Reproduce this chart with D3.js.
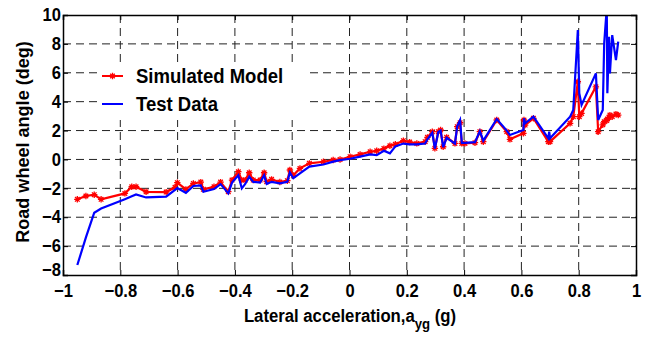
<!DOCTYPE html>
<html>
<head>
<meta charset="utf-8">
<script src="https://cdn.jsdelivr.net/npm/d3@7"></script>
<style>
  body { margin: 0; background: #fff; }
  svg { display: block; }
  text { font-family: "Liberation Sans", Arial, sans-serif; font-weight: bold; fill: #000; }
</style>
</head>
<body>
<svg id="chart"></svg>
<script>
// lateral acceleration (g), shared by both series
const accel = [
  -0.950, -0.920, -0.891, -0.867, -0.784, -0.760, -0.745, -0.710, -0.640, -0.609,
  -0.601, -0.571, -0.545, -0.519, -0.510, -0.473, -0.450, -0.423, -0.410, -0.388,
  -0.376, -0.364, -0.350, -0.336, -0.312, -0.298, -0.289, -0.272, -0.243, -0.217,
  -0.208, -0.196, -0.173, -0.140, -0.091, -0.057, -0.033, 0.002, 0.037, 0.072,
  0.095, 0.120, 0.141, 0.160, 0.188, 0.210, 0.235, 0.264, 0.272, 0.289,
  0.298, 0.310, 0.318, 0.327, 0.339, 0.368, 0.376, 0.386, 0.392, 0.403,
  0.438, 0.455, 0.467, 0.514, 0.549, 0.560, 0.607, 0.609, 0.613, 0.642,
  0.694, 0.697, 0.700, 0.770, 0.781, 0.797, 0.802, 0.810, 0.860, 0.868,
  0.884, 0.889, 0.898, 0.900, 0.906, 0.909, 0.917, 0.930, 0.938
];
// road wheel angle (deg), simulated model
const simulated = [
  -2.76, -2.53, -2.44, -2.76, -2.35, -1.89, -1.89, -2.24, -2.26, -1.93,
  -1.61, -2.07, -1.66, -1.57, -2.07, -1.89, -1.57, -2.23, -1.43, -0.85,
  -1.43, -1.43, -0.92, -1.43, -1.43, -0.92, -1.54, -1.38, -1.56, -1.47,
  -0.73, -1.10, -0.62, -0.27, -0.16, -0.04, 0.00, 0.19, 0.35, 0.53,
  0.60, 0.75, 0.95, 1.05, 1.30, 1.20, 1.11, 1.23, 1.53, 1.92,
  0.77, 1.92, 2.04, 0.88, 1.53, 1.11, 2.27, 2.54, 1.11, 1.11,
  1.16, 1.92, 1.23, 2.73, 1.92, 1.39, 1.81, 2.73, 2.38, 2.85,
  1.23, 1.35, 1.23, 2.50, 2.96, 5.38, 2.96, 3.19, 5.03, 1.92,
  2.40, 2.61, 2.70, 2.80, 2.90, 3.07, 2.96, 3.14, 3.07
];
// road wheel angle (deg), test data
const measured = [
  -7.31, -5.40, -3.69, -3.40, -2.75, -2.55, -2.42, -2.63, -2.58, -2.10,
  -1.98, -2.31, -1.84, -1.80, -2.24, -2.05, -1.71, -2.35, -1.60, -1.10,
  -2.00, -1.70, -1.20, -1.55, -1.60, -1.10, -1.70, -1.55, -1.65, -1.55,
  -0.90, -1.30, -0.96, -0.50, -0.35, -0.15, -0.05, 0.05, 0.20, 0.35,
  0.30, 0.60, 0.42, 0.90, 1.10, 1.05, 1.05, 1.10, 1.40, 1.85,
  0.75, 1.90, 2.00, 0.85, 1.50, 1.10, 2.30, 2.73, 1.15, 1.15,
  1.20, 1.95, 1.30, 2.80, 2.00, 1.69, 2.04, 2.85, 2.50, 2.96,
  1.46, 1.92, 1.46, 2.96, 3.42, 8.96, 4.58, 3.77, 5.96, 2.73,
  3.42, 8.04, 10.5, 4.58, 8.50, 5.96, 8.61, 6.88, 8.15
];
const xTicks = [-1, -0.8, -0.6, -0.4, -0.2, 0, 0.2, 0.4, 0.6, 0.8, 1];
const yTicks = [-8, -6, -4, -2, 0, 2, 4, 6, 8, 10];
const seriesNames = ['Simulated Model', 'Test Data'];

const W = 654, H = 339;
const margin = { top: 15, right: 18, bottom: 64, left: 63 };
const width = W - margin.left - margin.right;
const height = H - margin.top - margin.bottom;

const svg = d3.select('#chart').attr('width', W).attr('height', H);

const g = svg.append('g')
  .attr('transform', `translate(${margin.left},${margin.top})`);

const x = d3.scaleLinear().domain([-1, 1]).range([0, width]);
const y = d3.scaleLinear().domain([-8, 10]).range([height, 0]);

// squeeze horizontal text a little (reference type is tall and narrow)
function condense(sel, f) {
  sel.each(function() {
    const len = this.getComputedTextLength();
    d3.select(this).attr('textLength', len * f).attr('lengthAdjust', 'spacingAndGlyphs');
  });
}

// clip
svg.append('defs').append('clipPath').attr('id', 'plot-clip')
  .append('rect').attr('width', width).attr('height', height);

// Grid
const grid = g.append('g').attr('class', 'grid');
grid.selectAll('.vgrid')
  .data(xTicks.slice(1, -1))
  .enter().append('line')
  .attr('x1', d => x(d)).attr('x2', d => x(d))
  .attr('y1', 0).attr('y2', height)
  .attr('stroke', '#222').attr('stroke-width', 1)
  .attr('stroke-dasharray', '8,5');
grid.selectAll('.hgrid')
  .data(yTicks.slice(1, -1))
  .enter().append('line')
  .attr('x1', 0).attr('x2', width)
  .attr('y1', d => y(d)).attr('y2', d => y(d))
  .attr('stroke', '#222').attr('stroke-width', 1)
  .attr('stroke-dasharray', '8,5');

// Lines
const data = accel.map((a, i) => ({ a, sim: simulated[i], test: measured[i] }));
const plot = g.append('g').attr('clip-path', 'url(#plot-clip)');

const simLine = d3.line().x(d => x(d.a)).y(d => y(d.sim));
const testLine = d3.line().x(d => x(d.a)).y(d => y(d.test));

plot.append('path')
  .datum(data)
  .attr('fill', 'none')
  .attr('stroke', '#ff0000')
  .attr('stroke-width', 2.2)
  .attr('d', simLine);

const star = 'M-3.2,0H3.2M0,-3.2V3.2M-2.3,-2.3L2.3,2.3M-2.3,2.3L2.3,-2.3';
plot.selectAll('.mark')
  .data(data)
  .enter().append('path')
  .attr('class', 'mark')
  .attr('transform', d => `translate(${x(d.a)},${y(d.sim)})`)
  .attr('d', star)
  .attr('stroke', '#ff0000')
  .attr('stroke-width', 1.3)
  .attr('fill', 'none');

plot.append('path')
  .datum(data)
  .attr('fill', 'none')
  .attr('stroke', '#0000ff')
  .attr('stroke-width', 2.2)
  .attr('d', testLine);

// Legend (white background, no border)
const legend = g.append('g').attr('transform', 'translate(34,47)');
legend.append('rect')
  .attr('x', 0).attr('y', 0).attr('width', 208).attr('height', 58)
  .attr('fill', '#fff');
const legendColors = ['#ff0000', '#0000ff'];
seriesNames.forEach((name, i) => {
  const ly = 14 + i * 28;
  legend.append('line')
    .attr('x1', 5).attr('x2', 26).attr('y1', ly).attr('y2', ly)
    .attr('stroke', legendColors[i]).attr('stroke-width', 2);
  if (i === 0) {
    legend.append('path')
      .attr('transform', `translate(15.5,${ly})`)
      .attr('d', star)
      .attr('stroke', '#ff0000').attr('stroke-width', 1.3).attr('fill', 'none');
  }
  legend.append('text')
    .attr('x', 39).attr('y', ly + 7)
    .style('font-size', '19.5px')
    .text(name)
    .call(condense, 0.95);
});

// Axes with inward ticks
const xAxisG = g.append('g')
  .attr('transform', `translate(0,${height})`)
  .call(d3.axisBottom(x).tickValues(xTicks).tickSize(-5).tickPadding(9)
    .tickFormat(d => d3.format('')(d)));
g.append('g')
  .call(d3.axisTop(x).tickValues(xTicks).tickSize(-5).tickFormat(''));
const yAxisG = g.append('g')
  .call(d3.axisLeft(y).tickValues(yTicks).tickSize(-5).tickPadding(2));
g.append('g')
  .attr('transform', `translate(${width},0)`)
  .call(d3.axisRight(y).tickValues(yTicks).tickSize(-5).tickFormat(''));

g.selectAll('.domain').attr('stroke', '#000').attr('stroke-width', 1.5);
g.selectAll('.tick line').attr('stroke', '#000').attr('stroke-width', 1);
g.selectAll('.tick text')
  .style('font-size', '18px')
  .style('font-family', '"Liberation Sans", Arial, sans-serif')
  .style('font-weight', 'bold')
  .attr('fill', '#000')
  .call(condense, 0.92);

// lift the lowest y label a touch so it clears the "-1" below it
yAxisG.selectAll('.tick').filter(d => d === -8).select('text').attr('y', -5);

// Axis labels
const xl = svg.append('g')
  .attr('transform', 'translate(350,322) scale(0.88,1)')
  .append('text')
  .attr('text-anchor', 'middle')
  .style('font-size', '19px');
xl.append('tspan').text('Lateral acceleration,a');
xl.append('tspan').attr('dy', 7).style('font-size', '15px').text('yg');
xl.append('tspan').attr('dy', -7).text(' (g)');

svg.append('text')
  .attr('transform', 'translate(29,142) rotate(-90)')
  .attr('text-anchor', 'middle')
  .style('font-size', '19px')
  .text('Road wheel angle (deg)')
  .call(condense, 0.95);
</script>
</body>
</html>
